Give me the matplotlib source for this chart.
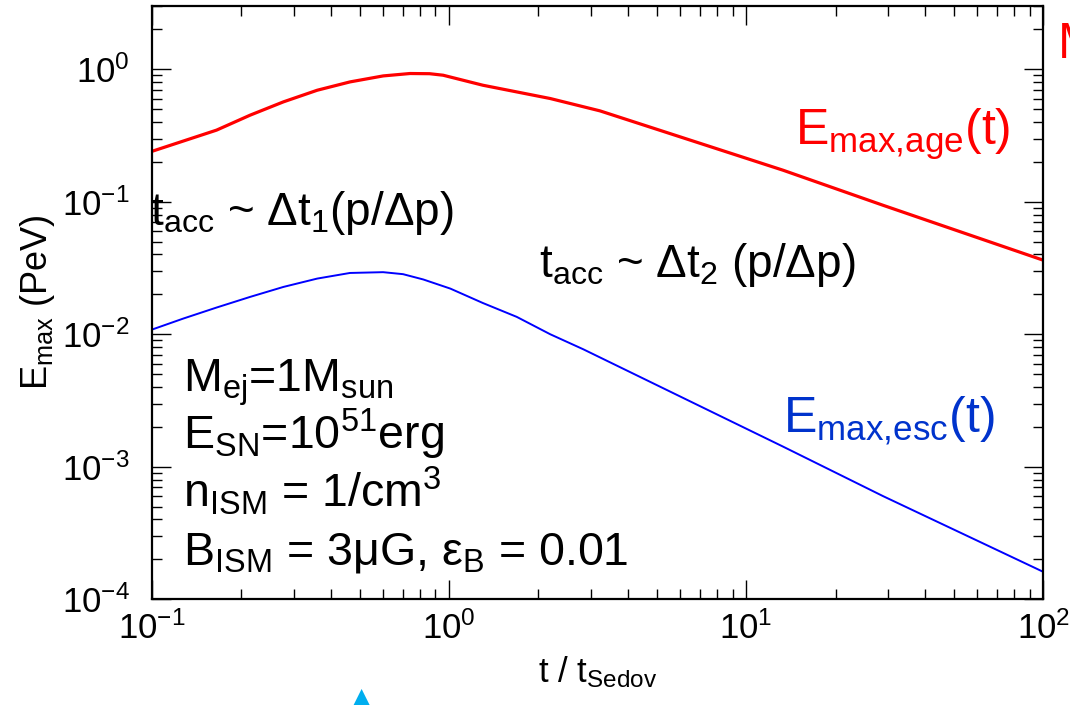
import matplotlib
matplotlib.use("Agg")
import matplotlib.pyplot as plt
from matplotlib.ticker import LogLocator, LogFormatterMathtext, NullFormatter

plt.rcParams['font.family'] = ['Liberation Sans', 'DejaVu Sans']
plt.rcParams['mathtext.fontset'] = 'custom'
plt.rcParams['mathtext.rm'] = 'Liberation Sans'
plt.rcParams['mathtext.it'] = 'Liberation Sans'
plt.rcParams['mathtext.bf'] = 'Liberation Sans:bold'

# E_max limited by SNR age (red)
t_age = [0.1, 0.165, 0.214, 0.277, 0.36, 0.464, 0.60, 0.739, 0.86, 0.955,
         1.30, 2.19, 3.22, 13.3, 28.9, 100]
E_age = [0.240, 0.347, 0.450, 0.567, 0.694, 0.802, 0.890, 0.928, 0.925, 0.901,
         0.757, 0.601, 0.485, 0.173, 0.094, 0.0362]

# E_max limited by escape (blue)
t_esc = [0.1, 0.1275, 0.165, 0.214, 0.277, 0.36, 0.464, 0.60, 0.70, 0.819,
         1.01, 1.30, 1.69, 2.19, 2.83, 13.3, 28.9, 100]
E_esc = [0.01084, 0.01313, 0.01590, 0.01913, 0.02275, 0.0263, 0.0290, 0.0294,
         0.0284, 0.0259, 0.0221, 0.0172, 0.01352, 0.0100, 0.0077, 0.00142,
         6.0e-4, 1.61e-4]

params = ["M$_{\\mathrm{ej}}$=1M$_{\\mathrm{sun}}$",
          "E$_{\\mathrm{SN}}$=10$^{51}$erg",
          "n$_{\\mathrm{ISM}}$ = 1/cm$^3$",
          "B$_{\\mathrm{ISM}}$ = 3μG, ε$_{\\mathrm{B}}$ = 0.01"]

fig = plt.figure(figsize=(10.7, 7.05), dpi=100)
ax = fig.add_axes([0.142, 0.150, 0.833, 0.8415])

ax.plot(t_age, E_age, color='#ff0000', lw=2.3)
ax.plot(t_esc, E_esc, color='#0000ff', lw=1.4)

ax.set_xscale('log')
ax.set_yscale('log')
ax.set_xlim(0.1, 100)
ax.set_ylim(1e-4, 3.0)

for axis in (ax.xaxis, ax.yaxis):
    axis.set_major_locator(LogLocator(base=10, numticks=20))
    axis.set_minor_locator(LogLocator(base=10, subs=range(2, 10), numticks=20))
    axis.set_major_formatter(LogFormatterMathtext())
    axis.set_minor_formatter(NullFormatter())

ax.tick_params(which='both', direction='in', top=True, right=True, width=1.0)
ax.tick_params(which='major', length=14, labelsize=25)
ax.tick_params(which='minor', length=7)
ax.tick_params(axis='x', pad=9)
ax.tick_params(axis='y', pad=16)
for s in ax.spines.values():
    s.set_linewidth(1.6)

ax.set_xlabel("t / t$_{\\mathrm{Sedov}}$", fontsize=25, labelpad=6)
ax.set_ylabel("E$_{\\mathrm{max}}$ (PeV)", fontsize=26)
ax.yaxis.set_label_coords(-0.106, 0.5)

ax.text(-0.002, 0.631, "t$_{\\mathrm{acc}}$ ~ Δt$_{\\mathrm{1}}$(p/Δp)",
        transform=ax.transAxes, fontsize=33, va='baseline', ha='left')
ax.text(0.434, 0.5435, "t$_{\\mathrm{acc}}$ ~ Δt$_{\\mathrm{2}}$ (p/Δp)",
        transform=ax.transAxes, fontsize=33, va='baseline', ha='left')
ax.text(0.722, 0.766, "E$_{\\mathrm{max{,}age}}$(t)", color='#ff0000',
        transform=ax.transAxes, fontsize=36, va='baseline', ha='left')
ax.text(0.708, 0.282, "E$_{\\mathrm{max{,}esc}}$(t)", color='#0033cc',
        transform=ax.transAxes, fontsize=36, va='baseline', ha='left')

for i, line in enumerate(params):
    ax.text(0.035, 0.350 - i * 0.097, line, transform=ax.transAxes,
            fontsize=33.5, va='baseline', ha='left')

fig.text(1058 / 1070, 1 - 45 / 705, "M", color='#ff0000', fontsize=36,
         va='center', ha='left')
fig.text(362 / 1070, 1 - 686 / 705, "▲", color='#00aeef', fontsize=18,
         va='top', ha='center', family='DejaVu Sans')

fig.savefig("out.png", dpi=100)
